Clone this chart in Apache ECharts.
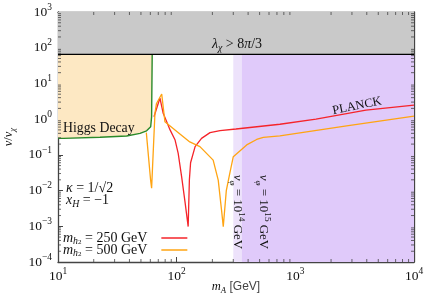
<!DOCTYPE html>
<html><head><meta charset="utf-8">
<script src="https://cdn.jsdelivr.net/npm/echarts@6/dist/echarts.min.js"></script>
<style>html,body{margin:0;padding:0;background:#fff}#c{width:436px;height:299px}</style>
</head><body><div id="c"></div>
<script>
// ---- data ----
const xRange = [10, 10000];
const yRange = [1e-4, 1e3];
const perturbLimit = 65;            // lambda_chi > 8pi/3 boundary
const vphiBounds = [300, 355];      // v_phi = 10^14, 10^15 GeV
const higgsX = [10, 11.1, 22.6, 37.9, 49.1, 55.8, 60.4, 61.5, 62.2];
const higgsY = [0.29, 0.29, 0.31, 0.336, 0.40, 0.47, 0.61, 1.17, 65];
const red250X = [64.4, 72.3, 77, 88, 97, 103, 110, 117.5, 125, 128, 131, 143, 162, 191, 232, 316, 741, 1493, 3936, 10000];
const red250Y = [1.17, 3.9, 1.46, 0.5, 0.26, 0.11, 0.025, 0.0049, 0.00098, 0.02, 0.06, 0.17, 0.29, 0.42, 0.48, 0.53, 0.72, 1.0, 1.78, 2.48];
const org500X = [55.5, 60.3, 61.5, 65.6, 67.6, 74.8, 79.6, 96.8, 129, 157, 190, 203, 224, 239, 247, 262, 280, 300, 389, 472, 537, 741, 2705, 10000];
const org500Y = [0.42, 0.0197, 0.0117, 1.46, 2.75, 5.05, 0.85, 0.5, 0.23, 0.17, 0.089, 0.071, 0.0197, 0.0028, 0.00098, 0.01, 0.03, 0.089, 0.19, 0.27, 0.31, 0.34, 0.65, 1.22];
const legendNames = ['250', '500'];

const F = 'Liberation Serif';
const C = '#111';
const zip = (a, b) => a.map((v, i) => [v, b[i]]);
function minors(lo, hi) {
  const out = [];
  for (let d = lo; d < hi; d *= 10) for (let k = 2; k <= 9; k++) out.push(d * k);
  return out;
}
const xMinor = minors(xRange[0], xRange[1]);
const yMinor = minors(yRange[0], yRange[1]);

// rich text styles: k = fill key ('color' for axis/legend, 'fill' for graphic)
function mathRich(size, k, lh) {
  const LH = lh || size + 5;
  const o = {
    n: {fontFamily: F, fontSize: size, lineHeight: LH, verticalAlign: 'middle'},
    i: {fontFamily: F, fontSize: size, fontStyle: 'italic', lineHeight: LH, verticalAlign: 'middle'},
    sub: {fontFamily: F, fontSize: size * 0.7, fontStyle: 'italic', lineHeight: LH - 2, verticalAlign: 'bottom'},
    sub2: {fontFamily: F, fontSize: size * 0.5, lineHeight: LH - 8, verticalAlign: 'bottom'},
    sup: {fontFamily: F, fontSize: size * 0.7, lineHeight: size * 0.8, verticalAlign: 'top'}
  };
  Object.values(o).forEach(s => s[k] = C);
  return o;
}
function powLabel(v) {
  const e = Math.round(Math.log10(v));
  return '{n|10}{sup|' + (e < 0 ? '\u2212' + (-e) : e) + '}';
}

const chart = echarts.init(document.getElementById('c'), null, {renderer: 'canvas'});
const axLine = {lineStyle: {color: '#444', width: 1.3}};
const tick = {inside: true, length: 5, lineStyle: {color: '#444'}};
const baseX = {type: 'log', logBase: 10, min: xRange[0], max: xRange[1], gridIndex: 0, splitLine: {show: false}, axisLine: axLine, axisTick: tick};
const baseY = {type: 'log', logBase: 10, min: yRange[0], max: yRange[1], interval: 1, gridIndex: 0, splitLine: {show: false}, axisLine: axLine, axisTick: tick};

function polyItem(ptsFn, style, z) {
  return {
    type: 'custom', z: z, silent: true, clip: true,
    data: [[xRange[0], yRange[0]]],
    renderItem: (params, api) => ({type: 'polygon', shape: {points: ptsFn().map(p => api.coord(p))}, style: style})
  };
}
function tickSeries(vals, isX) {
  return {
    type: 'custom', z: 10, silent: true, clip: false,
    data: vals.map(v => isX ? [v, yRange[0]] : [xRange[0], v]),
    renderItem: (params, api) => {
      const v = api.value(isX ? 0 : 1);
      const L = 3;
      let a, b;
      if (isX) { a = api.coord([v, yRange[0]]); b = api.coord([v, yRange[1]]); }
      else { a = api.coord([xRange[0], v]); b = api.coord([xRange[1], v]); }
      const st = {stroke: '#444', lineWidth: 0.8};
      return {type: 'group', children: isX ? [
        {type: 'line', shape: {x1: a[0], y1: a[1], x2: a[0], y2: a[1] - L}, style: st},
        {type: 'line', shape: {x1: b[0], y1: b[1], x2: b[0], y2: b[1] + L}, style: st}
      ] : [
        {type: 'line', shape: {x1: a[0], y1: a[1], x2: a[0] + L, y2: a[1]}, style: st},
        {type: 'line', shape: {x1: b[0], y1: b[1], x2: b[0] - L, y2: b[1]}, style: st}
      ]};
    }
  };
}
function gText(opts, text, size) {
  return Object.assign({type: 'text', z: 20, silent: true}, opts, {style: Object.assign({text: text, rich: mathRich(size, 'fill')}, opts.style || {})});
}

chart.setOption({
  animation: false,
  grid: {left: 58, top: 12, right: 22, bottom: 37, containLabel: false, outerBoundsMode: 'none'},
  xAxis: [
    Object.assign({}, baseX, {position: 'bottom',
      axisLabel: {margin: 5, formatter: powLabel, rich: mathRich(13.5, 'color')},
      name: '{i|m}{sub|A} [GeV]', nameLocation: 'middle', nameGap: 16, nameMoveOverlap: false,
      nameTextStyle: {rich: mathRich(12.5, 'color')}}),
    Object.assign({}, baseX, {position: 'top', axisLabel: {show: false}})
  ],
  yAxis: [
    Object.assign({}, baseY, {position: 'left',
      axisLabel: {margin: 6, formatter: powLabel, rich: mathRich(13.5, 'color')},
      name: '{i|v}{n|/}{i|v}{sub|χ}', nameLocation: 'middle', nameGap: 41, nameMoveOverlap: false,
      nameTextStyle: {rich: mathRich(12.5, 'color')}}),
    Object.assign({}, baseY, {position: 'right', axisLabel: {show: false}})
  ],
  legend: {
    left: 63, top: 231, orient: 'vertical', align: 'right', itemWidth: 26, itemHeight: 1.5, itemGap: -3, padding: 0,
    icon: 'rect', data: legendNames,
    formatter: n => '{i|m}{sub|h}{sub2|2}{n| = ' + n + ' GeV}',
    textStyle: {rich: mathRich(14, 'color', 16), padding: [0, 9, 0, 0]}
  },
  series: [
    polyItem(() => [[vphiBounds[0], yRange[0]], [xRange[1], yRange[0]], [xRange[1], perturbLimit], [vphiBounds[0], perturbLimit]], {fill: '#ede2fb'}, 1),
    polyItem(() => [[vphiBounds[1], yRange[0]], [xRange[1], yRange[0]], [xRange[1], perturbLimit], [vphiBounds[1], perturbLimit]], {fill: '#e0cafa'}, 1),
    {name: '250', type: 'line', data: zip(red250X, red250Y), showSymbol: false, symbol: 'none', z: 3,
      lineStyle: {color: '#f5242a', width: 1.3}, itemStyle: {color: '#f5242a'}},
    {name: '500', type: 'line', data: zip(org500X, org500Y), showSymbol: false, symbol: 'none', z: 3,
      lineStyle: {color: '#ffa412', width: 1.3}, itemStyle: {color: '#ffa412'}},
    polyItem(() => [[xRange[0], perturbLimit]].concat(zip(higgsX, higgsY)), {fill: '#fde8c3'}, 4),
    {type: 'line', data: zip(higgsX, higgsY), showSymbol: false, symbol: 'none', z: 5, silent: true,
      lineStyle: {color: '#2a8a2a', width: 1.4}},
    polyItem(() => [[xRange[0], perturbLimit], [xRange[1], perturbLimit], [xRange[1], yRange[1]], [xRange[0], yRange[1]]], {fill: '#c9c9c9'}, 5),
    {type: 'line', data: [[xRange[0], perturbLimit], [xRange[1], perturbLimit]], showSymbol: false, symbol: 'none', z: 6, silent: true,
      lineStyle: {color: '#000', width: 1.3}},
    tickSeries(xMinor, true),
    tickSeries(yMinor, false)
  ],
  graphic: [
    gText({x: 237, y: 44, style: {align: 'center', verticalAlign: 'middle'}}, '{i|λ}{sub|χ}{n| > 8}{i|π}{n|/3}', 14),
    gText({x: 63, y: 128, style: {verticalAlign: 'middle'}}, '{n|Higgs Decay}', 13.8),
    gText({x: 357, y: 106, rotation: 0.2, style: {align: 'center', verticalAlign: 'middle'}}, '{n|PLANCK}', 12.5),
    gText({x: 66, y: 188, style: {verticalAlign: 'middle'}}, '{i|κ}{n| = 1/√2}', 14),
    gText({x: 66, y: 200, style: {verticalAlign: 'middle'}}, '{i|x}{sub|H}{n| = −1}', 14),
    gText({x: 237, y: 212, rotation: -Math.PI / 2, style: {align: 'center', verticalAlign: 'middle'}}, '{i|v}{sub|φ}{n| = 10}{sup|14}{n| GeV}', 13),
    gText({x: 263, y: 212, rotation: -Math.PI / 2, style: {align: 'center', verticalAlign: 'middle'}}, '{i|v}{sub|φ}{n| = 10}{sup|15}{n| GeV}', 13)
  ]
});
</script></body></html>
